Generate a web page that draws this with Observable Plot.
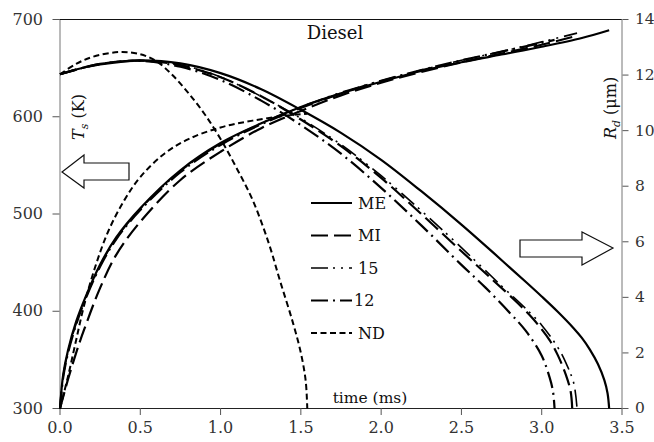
<!DOCTYPE html>
<html>
<head>
<meta charset="utf-8">
<script src="https://cdn.jsdelivr.net/npm/d3@7"></script>
<script src="https://cdn.jsdelivr.net/npm/@observablehq/plot@0.6"></script>
<style>
  html, body { margin: 0; padding: 0; background: #fff; }
  #chart { position: relative; width: 654px; height: 442px; }
</style>
</head>
<body>
<div id="chart"></div>
<script>
// ---- Data: droplet surface temperature Ts (K) and radius Rd (µm) vs time (ms), diesel fuel ----
const seriesNames = ["ME", "MI", "15", "12", "ND"];

// Surface temperature, [time ms, Ts K]
const tsME = [[0,300],[0.02,335],[0.05,360],[0.1,389],[0.16,415],[0.25,448],[0.35,476],[0.5,506],[0.75,545],[1.0,573],[1.25,593],[1.5,610],[1.75,624],[2.0,636],[2.25,647],[2.5,656],[2.75,664],[3.0,672],[3.25,681],[3.42,689]];
const tsMI = [[0,300],[0.05,330],[0.1,357],[0.15,381],[0.25,424],[0.35,458],[0.5,492],[0.75,535],[1.0,564],[1.25,588],[1.5,606],[1.75,622],[2.0,635],[2.25,646],[2.5,656],[2.75,665],[3.0,674],[3.19,682]];
const ts15 = [[0,300],[0.02,333],[0.05,358],[0.1,387],[0.16,414],[0.25,447],[0.35,475],[0.5,505],[0.75,544],[1.0,572],[1.25,593],[1.5,610],[1.75,625],[2.0,637],[2.25,648],[2.5,658],[2.75,667],[3.0,677],[3.22,686]];
const ts12 = [[0,300],[0.02,332],[0.05,357],[0.1,386],[0.16,413],[0.25,446],[0.35,474],[0.5,504],[0.75,543],[1.0,571],[1.25,592],[1.5,609],[1.75,624],[2.0,637],[2.25,648],[2.5,658],[2.75,667],[3.0,676],[3.08,679]];
const tsND = [[0,300],[0.05,333],[0.1,370],[0.15,406],[0.22,446],[0.3,482],[0.4,514],[0.5,538],[0.65,562],[0.8,577],[1.0,589],[1.2,596],[1.4,601],[1.54,603]];

// Droplet radius, [time ms, Rd µm]
const rdME = [[0,12.03],[0.1,12.2],[0.25,12.38],[0.5,12.53],[0.75,12.42],[1.0,12.07],[1.25,11.5],[1.5,10.75],[1.75,9.92],[2.0,8.95],[2.25,7.82],[2.5,6.62],[2.7,5.6],[2.8,5.08],[2.9,4.56],[3.0,4.03],[3.1,3.48],[3.2,2.88],[3.25,2.54],[3.3,2.12],[3.35,1.6],[3.39,1.02],[3.41,0.55],[3.42,0]];
const rdMI = [[0,12.03],[0.25,12.4],[0.5,12.52],[0.75,12.35],[1.0,11.92],[1.25,11.25],[1.5,10.4],[1.75,9.44],[2.0,8.3],[2.25,7.0],[2.5,5.66],[2.7,4.6],[2.85,3.8],[2.95,3.2],[3.05,2.45],[3.1,1.92],[3.15,1.22],[3.18,0.62],[3.19,0]];
const rd15 = [[0,12.03],[0.25,12.39],[0.5,12.52],[0.75,12.37],[1.0,11.93],[1.25,11.24],[1.5,10.44],[1.75,9.5],[2.0,8.38],[2.25,7.12],[2.5,5.79],[2.75,4.41],[2.9,3.6],[3.0,3.0],[3.1,2.2],[3.15,1.65],[3.2,0.9],[3.22,0]];
const rd12 = [[0,12.03],[0.25,12.4],[0.5,12.51],[0.75,12.3],[1.0,11.82],[1.25,11.09],[1.5,10.2],[1.75,9.17],[2.0,7.94],[2.25,6.59],[2.5,5.17],[2.65,4.35],[2.8,3.45],[2.9,2.8],[3.0,1.9],[3.05,1.1],[3.07,0.62],[3.08,0]];
const rdND = [[0,12.03],[0.1,12.4],[0.2,12.65],[0.37,12.83],[0.5,12.75],[0.6,12.5],[0.7,12.0],[0.8,11.35],[0.9,10.6],[1.0,9.7],[1.1,8.65],[1.2,7.5],[1.3,5.95],[1.37,4.6],[1.45,3.1],[1.5,2.0],[1.53,1.0],[1.54,0]];

// Axis ticks
const timeTicks = [0, 0.5, 1.0, 1.5, 2.0, 2.5, 3.0, 3.5];
const tsTicks = [300, 400, 500, 600, 700];
const rdTicks = [0, 2, 4, 6, 8, 10, 12, 14];

// ---- Line styles per model ----
const styles = {
  ME: {dash: null, width: 2.2},
  MI: {dash: "17,6", width: 2.2},
  "15": {dash: "17,5,2,6,2,6", width: 1.6},
  "12": {dash: "17,5,2,5", width: 2.2},
  ND: {dash: "6,3.5", width: 2}
};
const tsBySeries = {ME: tsME, MI: tsMI, "15": ts15, "12": ts12, ND: tsND};
const rdBySeries = {ME: rdME, MI: rdMI, "15": rd15, "12": rd12, ND: rdND};

// Rd is drawn against the Ts scale: 0–14 µm spans 300–700 K
const tsMin = 300, tsMax = 700, rdMax = 14;
const kPerUm = (tsMax - tsMin) / rdMax;
const rdToTs = r => tsMin + r * kPerUm;

const lineMarks = [];
for (const name of seriesNames) {
  const s = styles[name];
  const common = {x: d => d[0], stroke: "#000", strokeWidth: s.width, curve: "catmull-rom", strokeLinecap: "butt"};
  if (s.dash) common.strokeDasharray = s.dash;
  lineMarks.push(Plot.line(tsBySeries[name], {...common, y: d => d[1]}));
  lineMarks.push(Plot.line(rdBySeries[name], {...common, y: d => rdToTs(d[1])}));
}

const svg = Plot.plot({
  width: 654,
  height: 442,
  marginLeft: 59.5,
  marginRight: 32.5,
  marginTop: 19,
  marginBottom: 34,
  style: {fontFamily: "'DejaVu Serif', serif", fontSize: "16px", color: "#333", background: "#fff", overflow: "visible"},
  x: {domain: [0, 3.5], label: null},
  y: {domain: [tsMin, tsMax], label: null},
  marks: [
    Plot.frame({stroke: "#777"}),
    Plot.ruleY([tsMax], {stroke: "#111"}),
    Plot.ruleY([tsMin], {stroke: "#222"}),
    Plot.axisX(timeTicks, {tickSize: 7, tickPadding: 6, tickFormat: d3.format(".1f"), stroke: "#555", fill: "#333", label: null}),
    Plot.axisY(tsTicks, {tickSize: 7, tickPadding: 10, stroke: "#555", fill: "#333", label: null}),
    Plot.axisY(rdTicks.map(rdToTs), {anchor: "right", tickSize: 6, tickPadding: 7, fontSize: 15.5, stroke: "#555", fill: "#333",
      tickFormat: v => String(Math.round((v - tsMin) / kPerUm)), label: null}),
    ...lineMarks
  ]
});

document.getElementById("chart").appendChild(svg);

// ---- Annotations: title, axis names, legend, arrows ----
const g = d3.select(svg).append("g")
  .attr("font-family", "'DejaVu Serif', serif")
  .attr("fill", "#111")
  .attr("text-anchor", "start");

g.append("text").attr("x", 335).attr("y", 39).attr("text-anchor", "middle").attr("font-size", 18).text("Diesel");
g.append("text").attr("x", 370).attr("y", 403).attr("text-anchor", "middle").attr("font-size", 15.5).text("time (ms)");

const tsLabel = g.append("text").attr("transform", "translate(84,117) rotate(-90)").attr("text-anchor", "middle").attr("font-size", 16);
tsLabel.append("tspan").attr("font-style", "italic").text("T");
tsLabel.append("tspan").attr("font-style", "italic").attr("font-size", 11).attr("dy", 4).text("s");
tsLabel.append("tspan").attr("dy", -4).text(" (K)");

const rdLabel = g.append("text").attr("transform", "translate(616,108) rotate(-90)").attr("text-anchor", "middle").attr("font-size", 16);
rdLabel.append("tspan").attr("font-style", "italic").text("R");
rdLabel.append("tspan").attr("font-style", "italic").attr("font-size", 11).attr("dy", 4).text("d");
rdLabel.append("tspan").attr("dy", -4).text(" (μm)");

// Legend
const legendX0 = 311, legendX1 = 352, legendLabelX = 358, legendY0 = 203, legendStep = 32.5;
seriesNames.forEach((name, i) => {
  const y = legendY0 + i * legendStep;
  const s = styles[name];
  const ln = g.append("line").attr("x1", legendX0).attr("x2", legendX1).attr("y1", y).attr("y2", y)
    .attr("stroke", "#000").attr("stroke-width", s.width);
  if (s.dash) ln.attr("stroke-dasharray", s.dash);
  g.append("text").attr("x", name === "12" ? legendLabelX - 4 : legendLabelX).attr("y", y).attr("dy", "0.35em")
    .attr("text-anchor", "start").attr("font-size", 16).text(name);
});

// Arrows pointing to the axis each curve family belongs to
const arrows = [
  [[62,172],[84,155],[84,163],[129,163],[129,180],[84,180],[84,188]],
  [[613,248],[582,232],[582,240],[520,240],[520,257],[582,257],[582,265]]
];
for (const pts of arrows) {
  g.append("polygon").attr("points", pts.map(p => p.join(",")).join(" "))
    .attr("fill", "#fff").attr("stroke", "#111").attr("stroke-width", 1.2).attr("stroke-linejoin", "miter");
}
</script>
</body>
</html>
